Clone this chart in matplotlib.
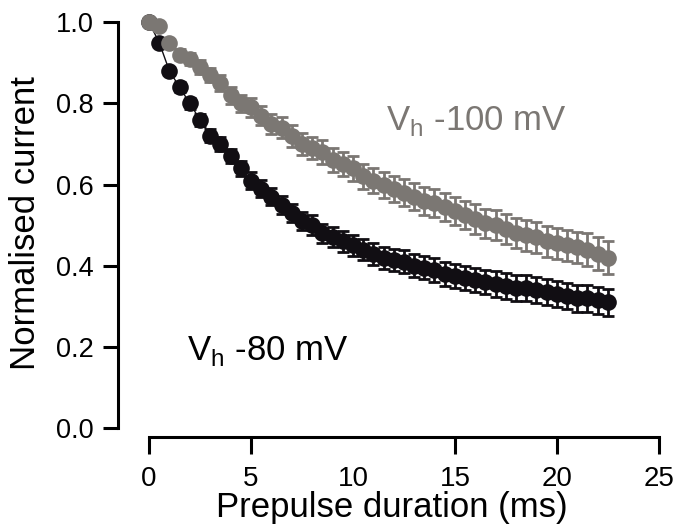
import matplotlib
matplotlib.use('Agg')
import matplotlib.pyplot as plt

plt.rcParams['font.family'] = ['Liberation Sans', 'DejaVu Sans']
plt.rcParams['mathtext.fontset'] = 'custom'
plt.rcParams['mathtext.rm'] = 'Liberation Sans'

# Prepulse durations (ms)
times = [0.0, 0.5, 1.0, 1.5, 2.0, 2.5, 3.0, 3.5, 4.0, 4.5,
         5.0, 5.5, 6.0, 6.5, 7.0, 7.5, 8.0, 8.5, 9.0, 9.5,
         10.0, 10.5, 11.0, 11.5, 12.0, 12.5, 13.0, 13.5, 14.0, 14.5,
         15.0, 15.5, 16.0, 16.5, 17.0, 17.5, 18.0, 18.5, 19.0, 19.5,
         20.0, 20.5, 21.0, 21.5, 22.0, 22.5]

# Vh -80 mV
current_80 = [1.00, 0.95, 0.88, 0.84, 0.80, 0.76, 0.72, 0.70, 0.67, 0.64,
              0.61, 0.59, 0.57, 0.55, 0.53, 0.51, 0.50, 0.48, 0.47, 0.46,
              0.45, 0.44, 0.43, 0.42, 0.415, 0.41, 0.40, 0.395, 0.39, 0.38,
              0.375, 0.37, 0.365, 0.36, 0.355, 0.35, 0.345, 0.345, 0.34, 0.335,
              0.33, 0.325, 0.32, 0.32, 0.315, 0.31]
err_80 = [0.0, 0.006, 0.01, 0.012, 0.014, 0.015, 0.016, 0.017, 0.018, 0.019,
          0.02, 0.021, 0.021, 0.022, 0.023, 0.023, 0.024, 0.024, 0.025, 0.025,
          0.026, 0.026, 0.027, 0.027, 0.027, 0.028, 0.028, 0.028, 0.029, 0.029,
          0.029, 0.03, 0.03, 0.03, 0.031, 0.031, 0.031, 0.031, 0.032, 0.032,
          0.032, 0.032, 0.033, 0.033, 0.033, 0.033]

# Vh -100 mV
current_100 = [1.00, 0.99, 0.95, 0.92, 0.91, 0.89, 0.87, 0.85, 0.82, 0.80,
               0.79, 0.77, 0.75, 0.74, 0.72, 0.70, 0.69, 0.68, 0.66, 0.65,
               0.64, 0.62, 0.61, 0.60, 0.59, 0.58, 0.57, 0.56, 0.555, 0.545,
               0.535, 0.525, 0.515, 0.505, 0.50, 0.49, 0.48, 0.475, 0.47, 0.46,
               0.455, 0.45, 0.445, 0.44, 0.43, 0.42]
err_100 = [0.0, 0.005, 0.01, 0.013, 0.015, 0.017, 0.018, 0.02, 0.021, 0.022,
           0.023, 0.024, 0.025, 0.026, 0.027, 0.027, 0.028, 0.029, 0.029, 0.03,
           0.03, 0.031, 0.031, 0.032, 0.032, 0.033, 0.033, 0.034, 0.034, 0.035,
           0.035, 0.035, 0.036, 0.036, 0.037, 0.037, 0.037, 0.038, 0.038, 0.038,
           0.039, 0.039, 0.039, 0.04, 0.04, 0.04]

black = '#110e13'
grey = '#7b7773'

fig = plt.figure(figsize=(6.76, 5.29), dpi=100)
ax = fig.add_axes([0.1746, 0.1739, 0.809, 0.807])

ax.errorbar(times, current_80, yerr=err_80, fmt='o-', color=black, ms=12,
            lw=1, elinewidth=2, capsize=4.5, capthick=2, mec='none', clip_on=False)
ax.errorbar(times, current_100, yerr=err_100, fmt='o', color=grey, ms=12,
            elinewidth=2, capsize=4.5, capthick=2, mec='none', clip_on=False)

ax.text(11.6, 0.735, r'V$_\mathrm{h}$ -100 mV', color=grey, fontsize=25)
ax.text(1.86, 0.168, r'V$_\mathrm{h}$ -80 mV', color='black', fontsize=25)

ax.set_xlim(-1.52, 25.3)
ax.set_ylim(-0.022, 1.03)
ax.spines['top'].set_visible(False)
ax.spines['right'].set_visible(False)
ax.spines['left'].set_bounds(0, 1)
ax.spines['bottom'].set_bounds(0, 25)
ax.spines['left'].set_linewidth(2.2)
ax.spines['bottom'].set_linewidth(2.2)

ax.set_xticks([0, 5, 10, 15, 20, 25])
ax.set_yticks([0.0, 0.2, 0.4, 0.6, 0.8, 1.0])
ax.set_yticklabels(['0.0', '0.2', '0.4', '0.6', '0.8', '1.0'])
ax.tick_params(axis='y', length=10.8, width=2.2, pad=7, labelsize=19.5)
ax.tick_params(axis='x', length=12, width=2.2, pad=9, labelsize=20)
# no tick mark at 10 in the original
ax.xaxis.get_major_ticks()[2].tick1line.set_visible(False)

ax.set_xlabel('Prepulse duration (ms)', fontsize=25, labelpad=-1)
ax.set_ylabel('Normalised current', fontsize=25, labelpad=10)

fig.savefig('out.png', dpi=100)
